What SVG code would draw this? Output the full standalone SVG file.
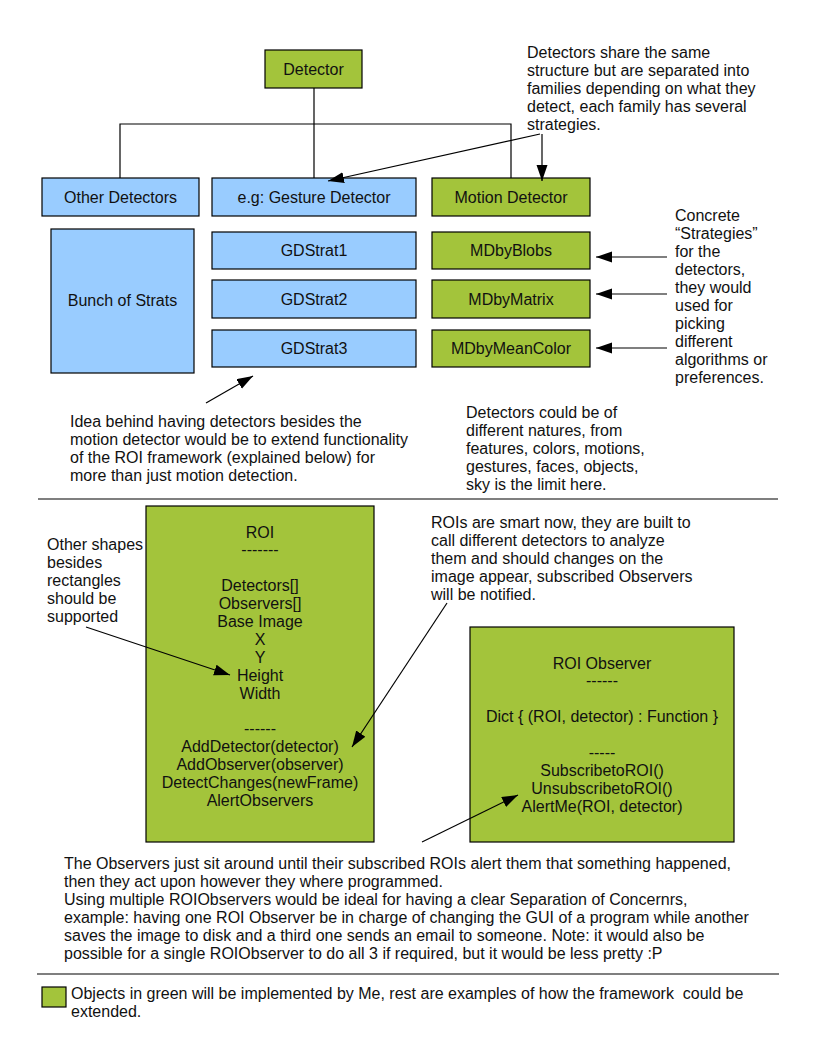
<svg xmlns="http://www.w3.org/2000/svg" width="816" height="1056" viewBox="0 0 816 1056">
<defs>
<marker id="ah" markerUnits="userSpaceOnUse" markerWidth="17" markerHeight="12" refX="16" refY="5.5" orient="auto"><path d="M0,0 L16,5.5 L0,11 z" fill="#000"/></marker>
<style>
text{font-family:"Liberation Sans",Arial,sans-serif;font-size:16px;fill:#111}
.c{text-anchor:middle}
.g{fill:#a3c43b;stroke:#000;stroke-width:1.2}
.b{fill:#99ccff;stroke:#000;stroke-width:1.2}
.ln{fill:none;stroke:#000;stroke-width:1.2}
.ar{fill:none;stroke:#000;stroke-width:1.2;marker-end:url(#ah)}
</style>
</defs>
<rect width="816" height="1056" fill="#fff"/>
<g id="detector"><rect class="g" x="265" y="50" width="97" height="38"/><text class="c" x="313.5" y="74.5">Detector</text></g>
<g id="other-detectors"><rect class="b" x="42" y="178" width="157" height="38"/><text class="c" x="120.5" y="202.5">Other Detectors</text></g>
<g id="gesture-detector"><rect class="b" x="212" y="178" width="204" height="38"/><text class="c" x="314" y="202.5">e.g: Gesture Detector</text></g>
<g id="motion-detector"><rect class="g" x="432" y="178" width="158" height="38"/><text class="c" x="511" y="202.5">Motion Detector</text></g>
<g id="bunch-of-strats"><rect class="b" x="51" y="229" width="143" height="144"/><text class="c" x="122.5" y="306">Bunch of Strats</text></g>
<g id="gdstrat1"><rect class="b" x="212" y="232" width="204" height="37"/><text class="c" x="314" y="256">GDStrat1</text></g>
<g id="gdstrat2"><rect class="b" x="212" y="280" width="204" height="38"/><text class="c" x="314" y="304.5">GDStrat2</text></g>
<g id="gdstrat3"><rect class="b" x="212" y="330" width="204" height="37"/><text class="c" x="314" y="354">GDStrat3</text></g>
<g id="mdbyblobs"><rect class="g" x="432" y="232" width="158" height="37"/><text class="c" x="511" y="256">MDbyBlobs</text></g>
<g id="mdbymatrix"><rect class="g" x="432" y="280" width="158" height="38"/><text class="c" x="511" y="304.5">MDbyMatrix</text></g>
<g id="mdbymeancolor"><rect class="g" x="432" y="330" width="158" height="37"/><text class="c" x="511" y="354">MDbyMeanColor</text></g>
<g id="note-detectors-share">
<text x="527" y="58"><tspan x="527">Detectors share the same</tspan><tspan x="527" dy="18">structure but are separated into</tspan><tspan x="527" dy="18">families depending on what they</tspan><tspan x="527" dy="18">detect, each family has several</tspan><tspan x="527" dy="18">strategies.</tspan></text>
</g>
<g id="note-concrete">
<text x="675" y="221"><tspan x="675">Concrete</tspan><tspan x="675" dy="18">“Strategies”</tspan><tspan x="675" dy="18">for the</tspan><tspan x="675" dy="18">detectors,</tspan><tspan x="675" dy="18">they would</tspan><tspan x="675" dy="18">used for</tspan><tspan x="675" dy="18">picking</tspan><tspan x="675" dy="18">different</tspan><tspan x="675" dy="18">algorithms or</tspan><tspan x="675" dy="18">preferences.</tspan></text>
</g>
<g id="note-idea">
<text x="70" y="427"><tspan x="70">Idea behind having detectors besides the</tspan><tspan x="70" dy="18">motion detector would be to extend functionality</tspan><tspan x="70" dy="18">of the ROI framework (explained below) for</tspan><tspan x="70" dy="18">more than just motion detection.</tspan></text>
</g>
<g id="note-natures">
<text x="466" y="417.5"><tspan x="466">Detectors could be of</tspan><tspan x="466" dy="18">different natures, from</tspan><tspan x="466" dy="18">features, colors, motions,</tspan><tspan x="466" dy="18">gestures, faces, objects,</tspan><tspan x="466" dy="18">sky is the limit here.</tspan></text>
</g>
<g id="roi"><rect class="g" x="146" y="506" width="228" height="336"/>
<text class="c" x="260" y="537.5"><tspan x="260">ROI</tspan><tspan x="260" dy="17.9">-------</tspan><tspan x="260" dy="35.8">Detectors[]</tspan><tspan x="260" dy="17.9">Observers[]</tspan><tspan x="260" dy="17.9">Base Image</tspan><tspan x="260" dy="17.9">X</tspan><tspan x="260" dy="17.9">Y</tspan><tspan x="260" dy="17.9">Height</tspan><tspan x="260" dy="17.9">Width</tspan><tspan x="260" dy="35.8">------</tspan><tspan x="260" dy="17.9">AddDetector(detector)</tspan><tspan x="260" dy="17.9">AddObserver(observer)</tspan><tspan x="260" dy="17.9">DetectChanges(newFrame)</tspan><tspan x="260" dy="17.9">AlertObservers</tspan></text>
</g>
<g id="roi-observer"><rect class="g" x="470" y="627" width="264" height="215"/>
<text class="c" x="602" y="668.5"><tspan x="602">ROI Observer</tspan><tspan x="602" dy="17.9">------</tspan><tspan x="602" dy="35.8">Dict { (ROI, detector) : Function }</tspan><tspan x="602" dy="35.8">-----</tspan><tspan x="602" dy="17.9">SubscribetoROI()</tspan><tspan x="602" dy="17.9">UnsubscribetoROI()</tspan><tspan x="602" dy="17.9">AlertMe(ROI, detector)</tspan></text>
</g>
<g id="note-shapes">
<text x="47" y="549.5"><tspan x="47">Other shapes</tspan><tspan x="47" dy="18">besides</tspan><tspan x="47" dy="18">rectangles</tspan><tspan x="47" dy="18">should be</tspan><tspan x="47" dy="18">supported</tspan></text>
</g>
<g id="note-rois-smart">
<text x="431" y="527.5"><tspan x="431">ROIs are smart now, they are built to</tspan><tspan x="431" dy="18">call different detectors to analyze</tspan><tspan x="431" dy="18">them and should changes on the</tspan><tspan x="431" dy="18">image appear, subscribed Observers</tspan><tspan x="431" dy="18">will be notified.</tspan></text>
</g>
<g id="note-observers">
<text x="64" y="868.5"><tspan x="64">The Observers just sit around until their subscribed ROIs alert them that something happened,</tspan><tspan x="64" dy="18">then they act upon however they where programmed.</tspan><tspan x="64" dy="18">Using multiple ROIObservers would be ideal for having a clear Separation of Concernrs,</tspan><tspan x="64" dy="18">example: having one ROI Observer be in charge of changing the GUI of a program while another</tspan><tspan x="64" dy="18">saves the image to disk and a third one sends an email to someone. Note: it would also be</tspan><tspan x="64" dy="18">possible for a single ROIObserver to do all 3 if required, but it would be less pretty :P</tspan></text>
</g>
<g id="legend"><rect class="g" x="42" y="987" width="24" height="20"/>
<text x="71" y="998.5"><tspan x="71">Objects in green will be implemented by Me, rest are examples of how the framework&#160; could be</tspan><tspan x="71" dy="18">extended.</tspan></text>
</g>
<g id="connectors">
<path class="ln" d="M314,88 V178 M120,178 V124 H511 V178"/>
<path class="ar" d="M540,134 L328,181"/>
<path class="ar" d="M542,134 V181"/>
<path class="ar" d="M667,257 H596"/>
<path class="ar" d="M667,294 H596"/>
<path class="ar" d="M667,348 H596"/>
<path class="ar" d="M206,403 L253,376"/>
<path class="ar" d="M86,627 L230,675"/>
<path class="ar" d="M447,603 L352,747"/>
<path class="ar" d="M422,842 L518,795"/>
<path class="ln" d="M38,499 H778 M37,974 H779"/>
</g>
</svg>
